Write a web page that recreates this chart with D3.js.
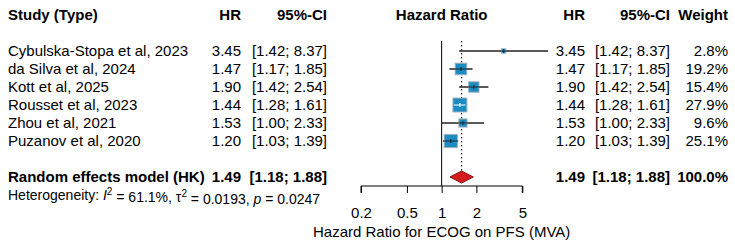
<!DOCTYPE html>
<html><head><meta charset="utf-8">
<script src="https://cdn.jsdelivr.net/npm/d3@7"></script>
<style>body{margin:0;background:#fff}svg{display:block}text{font-family:"Liberation Sans",Arial,sans-serif;fill:#000}</style>
</head><body><svg id="c" width="735" height="245"></svg>
<script>
const studies = ["Cybulska-Stopa et al, 2023","da Silva et al, 2024","Kott et al, 2025","Rousset et al, 2023","Zhou et al, 2021","Puzanov et al, 2020"];
const hr = [3.45,1.47,1.90,1.44,1.53,1.20];
const lower = [1.42,1.17,1.42,1.28,1.00,1.03];
const upper = [8.37,1.85,2.54,1.61,2.33,1.39];
const weights = [2.8,19.2,15.4,27.9,9.6,25.1];
const pooled = {label:"Random effects model (HK)", hr:1.49, lo:1.18, hi:1.88, w:100.0};
const hetero = {i2:"61.1%", tau2:"0.0193", p:"0.0247"};
const ticks = [0.2,0.5,1,2,5];
const axisTitle = "Hazard Ratio for ECOG on PFS (MVA)";

const svg = d3.select("#c");
const fs = 15;
const x = d3.scaleLog().domain([0.2,5]).range([361,522.3]);
const rowY = d3.scaleLinear().domain([0,1]).range([51,69]);
const yPooled = 177, yHet = 195, yHead = 15;
const fmt2 = d3.format(".2f");
const ci = (a,b)=>`[${fmt2(a)}; ${fmt2(b)}]`;
const pct = d3.format(".1f");
const sz = d3.scaleSqrt().domain([0,27.9]).range([0,14]);

// headers
const head = svg.append("g").attr("font-weight","bold").attr("font-size",fs);
head.append("text").attr("x",8).attr("y",yHead).attr("dy","0.35em").text("Study (Type)");
head.append("text").attr("x",241).attr("y",yHead).attr("dy","0.35em").attr("text-anchor","end").text("HR");
head.append("text").attr("x",327).attr("y",yHead).attr("dy","0.35em").attr("text-anchor","end").text("95%-CI");
head.append("text").attr("x",x(1)).attr("y",yHead).attr("dy","0.35em").attr("text-anchor","middle").text("Hazard Ratio");
head.append("text").attr("x",585).attr("y",yHead).attr("dy","0.35em").attr("text-anchor","end").text("HR");
head.append("text").attr("x",670).attr("y",yHead).attr("dy","0.35em").attr("text-anchor","end").text("95%-CI");
head.append("text").attr("x",728).attr("y",yHead).attr("dy","0.35em").attr("text-anchor","end").text("Weight");

// study rows text
const rows = svg.append("g").attr("font-size",fs);
studies.forEach((s,i)=>{
  const y = rowY(i);
  rows.append("text").attr("x",8).attr("y",y).attr("dy","0.35em").text(s);
  rows.append("text").attr("x",241).attr("y",y).attr("dy","0.35em").attr("text-anchor","end").text(fmt2(hr[i]));
  rows.append("text").attr("x",327).attr("y",y).attr("dy","0.35em").attr("text-anchor","end").text(ci(lower[i],upper[i]));
  rows.append("text").attr("x",585).attr("y",y).attr("dy","0.35em").attr("text-anchor","end").text(fmt2(hr[i]));
  rows.append("text").attr("x",670).attr("y",y).attr("dy","0.35em").attr("text-anchor","end").text(ci(lower[i],upper[i]));
  rows.append("text").attr("x",728).attr("y",y).attr("dy","0.35em").attr("text-anchor","end").text(pct(weights[i])+"%");
});

// pooled row
const pr = svg.append("g").attr("font-size",fs).attr("font-weight","bold");
pr.append("text").attr("x",8).attr("y",yPooled).attr("dy","0.35em").text(pooled.label);
pr.append("text").attr("x",241).attr("y",yPooled).attr("dy","0.35em").attr("text-anchor","end").text(fmt2(pooled.hr));
pr.append("text").attr("x",327).attr("y",yPooled).attr("dy","0.35em").attr("text-anchor","end").text(ci(pooled.lo,pooled.hi));
pr.append("text").attr("x",585).attr("y",yPooled).attr("dy","0.35em").attr("text-anchor","end").text(fmt2(pooled.hr));
pr.append("text").attr("x",670).attr("y",yPooled).attr("dy","0.35em").attr("text-anchor","end").text(ci(pooled.lo,pooled.hi));
pr.append("text").attr("x",728).attr("y",yPooled).attr("dy","0.35em").attr("text-anchor","end").text(pct(pooled.w)+"%");

// heterogeneity
const ht = svg.append("text").attr("x",8).attr("y",yHet).attr("dy","0.35em").attr("font-size",14);
ht.append("tspan").text("Heterogeneity: ");
ht.append("tspan").attr("font-style","italic").text("I");
ht.append("tspan").attr("font-size",10).attr("dy","-0.5em").text("2");
ht.append("tspan").attr("dy","0.5em").text(" = "+hetero.i2+", \u03C4");
ht.append("tspan").attr("font-size",10).attr("dy","-0.5em").text("2");
ht.append("tspan").attr("dy","0.5em").text(" = "+hetero.tau2+", ");
ht.append("tspan").attr("font-style","italic").text("p");
ht.append("tspan").text(" = "+hetero.p);

// reference line at 1
const plot = svg.append("g");
plot.append("line").attr("x1",x(1)).attr("x2",x(1)).attr("y1",41).attr("y2",186).attr("stroke","#000").attr("stroke-width",1);
// pooled dotted line
plot.append("line").attr("x1",x(pooled.hr)).attr("x2",x(pooled.hr)).attr("y1",41).attr("y2",yPooled-6)
  .attr("stroke","#000").attr("stroke-width",1).attr("stroke-dasharray","1.5,2.5");

// CIs and squares
studies.forEach((s,i)=>{
  const y = rowY(i);
  const s2 = sz(weights[i]);
  plot.append("line").attr("x1",x(lower[i])).attr("x2",x(upper[i])).attr("y1",y).attr("y2",y).attr("stroke","#222").attr("stroke-width",1);
  plot.append("rect").attr("x",x(hr[i])-s2/2).attr("y",y-s2/2).attr("width",s2).attr("height",s2)
    .attr("fill","#1a8cc2").attr("stroke","#a9b3bb").attr("stroke-width",1);
  const inside = x(upper[i])-x(lower[i]) < s2-1;
  plot.append("line").attr("x1",x(lower[i])).attr("x2",x(upper[i])).attr("y1",y).attr("y2",y)
    .attr("stroke",inside?"#fff":"#222").attr("stroke-width",1);
  plot.append("line").attr("x1",x(hr[i])).attr("x2",x(hr[i])).attr("y1",y-2).attr("y2",y+2)
    .attr("stroke",inside?"#fff":"#222").attr("stroke-width",1);
});

// diamond
const dh = 6;
plot.append("path").attr("d",`M${x(pooled.lo)},${yPooled}L${x(pooled.hr)},${yPooled-dh}L${x(pooled.hi)},${yPooled}L${x(pooled.hr)},${yPooled+dh}Z`)
  .attr("fill","#d41c1c").attr("stroke","#8b1010").attr("stroke-width",1);

// axis
const ax = svg.append("g").attr("transform","translate(0,186)")
  .call(d3.axisBottom(x).tickValues(ticks).tickFormat(d=>String(d)).tickSize(7).tickPadding(14));
ax.select(".domain").attr("stroke","#000").attr("d",`M${x(0.2)},7V0H${x(5)}V7`);
ax.selectAll(".tick line").attr("stroke","#000");
ax.selectAll(".tick text").attr("font-size",fs).attr("font-family","Liberation Sans, Arial, sans-serif").attr("fill","#000");
svg.append("text").attr("x",x(1)).attr("y",232).attr("dy","0.35em").attr("text-anchor","middle").attr("font-size",fs).text(axisTitle);
</script></body></html>
